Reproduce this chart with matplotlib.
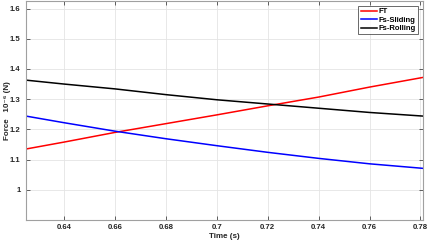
import matplotlib.pyplot as plt

# dados (tempo em s, forca em 1e-6 N)
tempo = [0.625, 0.64, 0.66, 0.68, 0.70, 0.72, 0.74, 0.76, 0.781]
ft = [1.135, 1.158, 1.190, 1.219, 1.248, 1.278, 1.307, 1.340, 1.372]
fs_sliding = [1.244, 1.222, 1.194, 1.169, 1.146, 1.124, 1.104, 1.086, 1.071]
fs_rolling = [1.363, 1.350, 1.334, 1.315, 1.298, 1.284, 1.270, 1.256, 1.244]

xticks = [0.64, 0.66, 0.68, 0.7, 0.72, 0.74, 0.76, 0.78]
xticklabels = ['0.64', '0.66', '0.68', '0.7', '0.72', '0.74', '0.76', '0.78']
yticks = [1, 1.1, 1.2, 1.3, 1.4, 1.5, 1.6]
yticklabels = ['1', '1.1', '1.2', '1.3', '1.4', '1.5', '1.6']

plt.rcParams['font.family'] = ['Liberation Sans', 'DejaVu Sans']

fig = plt.figure(figsize=(4.28, 2.42), dpi=100)
ax = fig.add_axes([0.0607, 0.0909, 0.9276, 0.905])

ax.plot(tempo, ft, color='red', lw=1.1, label='FT')
ax.plot(tempo, fs_sliding, color='blue', lw=1.1, label='Fs-Sliding')
ax.plot(tempo, fs_rolling, color='black', lw=1.1, label='Fs-Rolling')

ax.set_xlim(0.625, 0.781)
ax.set_ylim(0.9, 1.625)
ax.set_xticks(xticks)
ax.set_xticklabels(xticklabels)
ax.set_yticks(yticks)
ax.set_yticklabels(yticklabels)
ax.grid(True, color='#e4e4e4', lw=0.6)
ax.set_axisbelow(True)

ax.tick_params(direction='in', length=3, width=0.5, colors='#262626',
               labelsize=5.6, top=True, right=True)
ax.tick_params(axis='x', pad=3)
ax.tick_params(axis='y', pad=4)
for lbl in ax.get_xticklabels() + ax.get_yticklabels():
    lbl.set_fontweight('bold')
for s in ax.spines.values():
    s.set_color('#a0a0a0')
    s.set_linewidth(0.8)

ax.set_xlabel('Time (s)', fontsize=5.8, fontweight='bold', color='#262626')
ax.set_ylabel('Force   10⁻⁶ (N)', fontsize=5.8, fontweight='bold', color='#262626')
ax.xaxis.set_label_coords(0.5, -0.058)
ax.yaxis.set_label_coords(-0.046, 0.5)
ax.yaxis.label.set_verticalalignment('center')

leg = ax.legend(loc='upper right', fontsize=5.5, frameon=True, fancybox=False,
                edgecolor='#262626', handlelength=2.2, borderpad=0.3,
                labelspacing=0.15, handletextpad=0.2, borderaxespad=0.6)
leg.get_frame().set_linewidth(0.6)
for t in leg.get_texts():
    t.set_fontweight('bold')

fig.savefig('out.png', dpi=100)
